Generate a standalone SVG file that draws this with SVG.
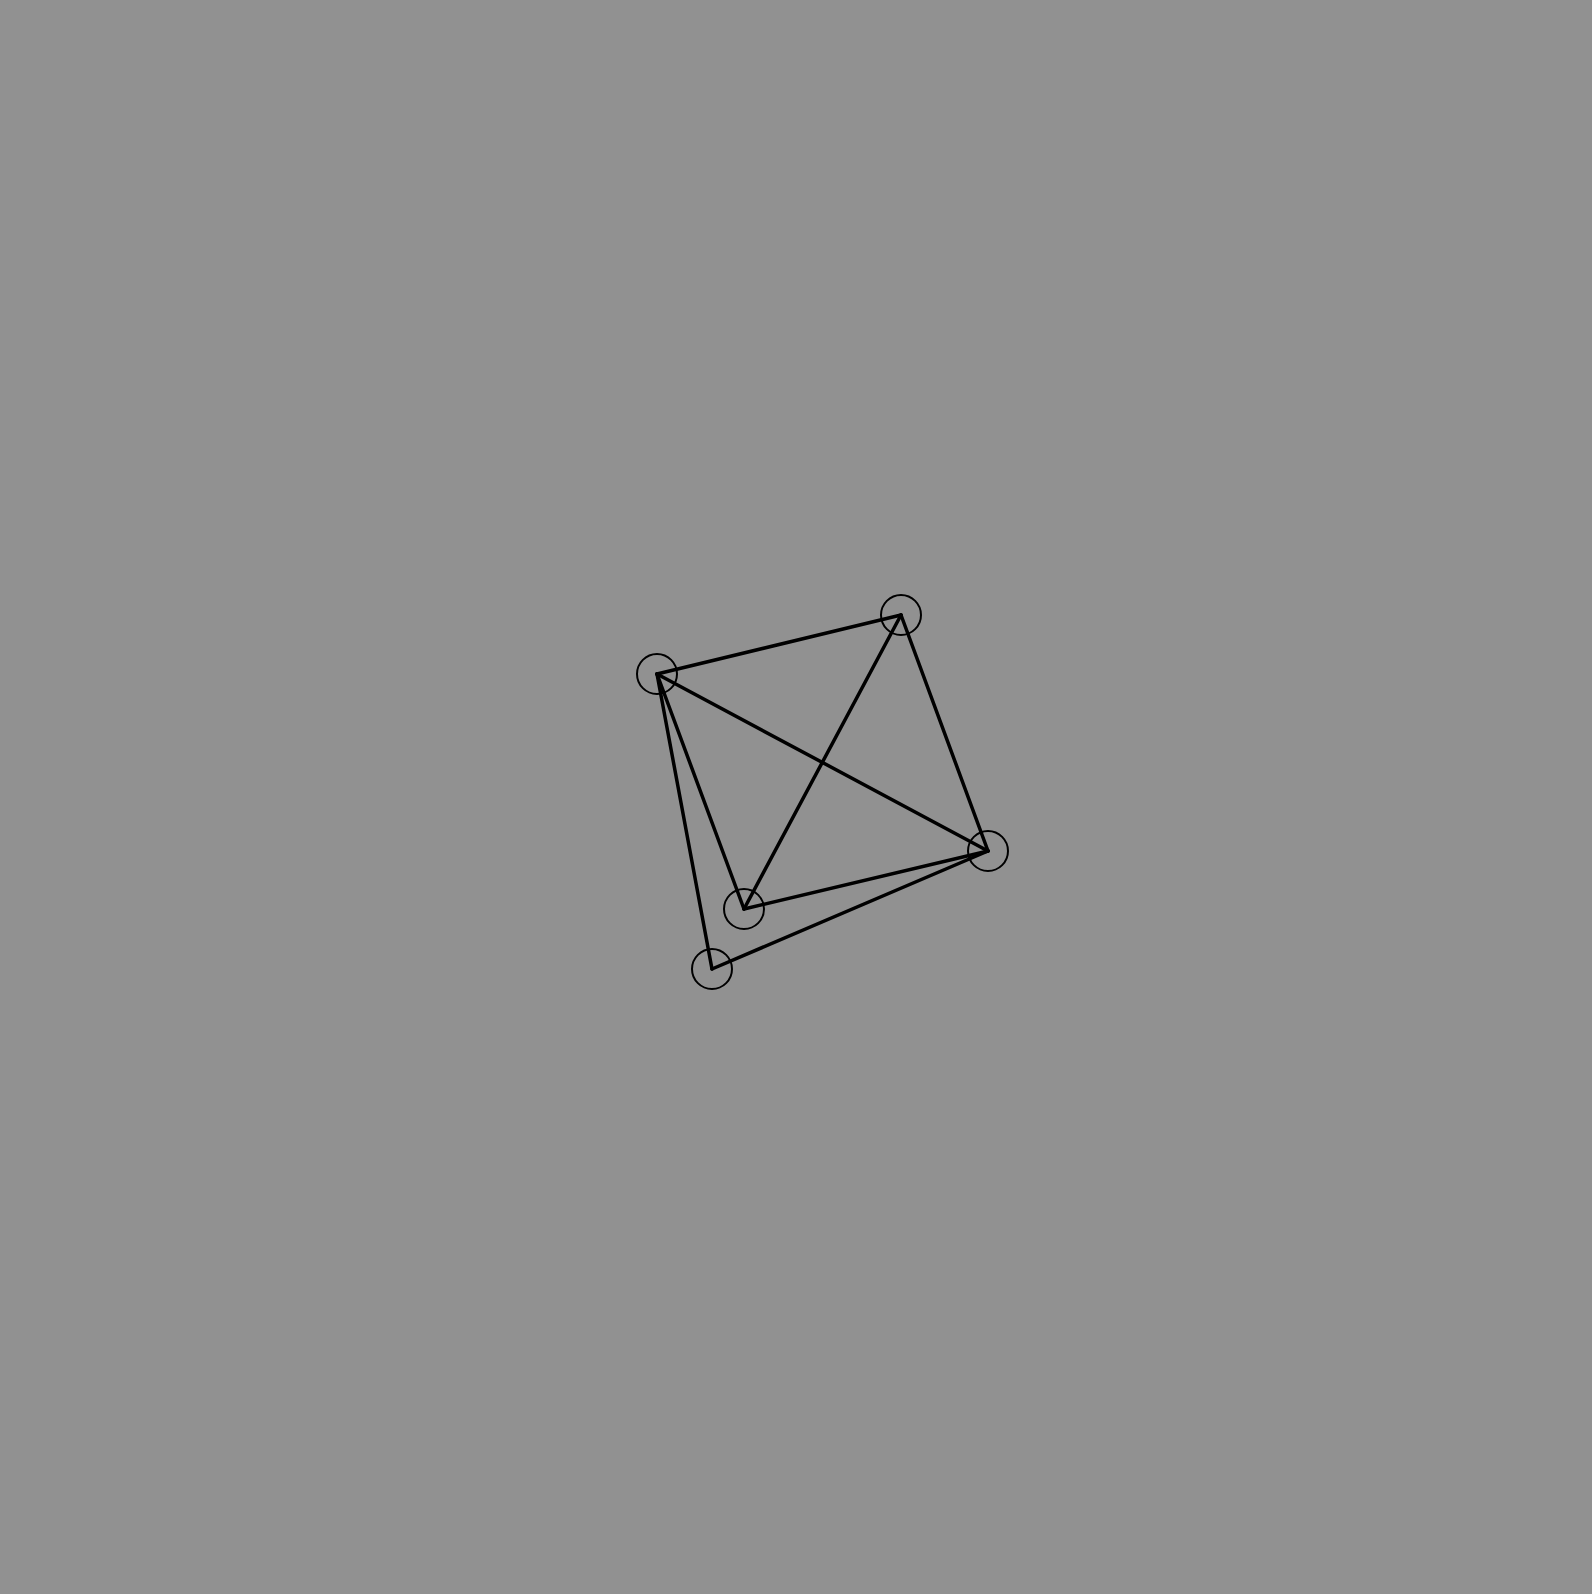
<svg xmlns="http://www.w3.org/2000/svg" width="1592" height="1594" viewBox="0 0 1592 1594">
<style>
.edge{stroke:#000;stroke-width:3.5;fill:none;stroke-linecap:round}
.node{fill:none;stroke:#000;stroke-width:2}
</style>
<rect width="1592" height="1594" fill="#919191"/>
<g id="connectors">
<line class="edge" x1="657" y1="674" x2="901" y2="615"/>
<line class="edge" x1="657" y1="674" x2="988" y2="851"/>
<line class="edge" x1="657" y1="674" x2="744" y2="909"/>
<line class="edge" x1="657" y1="674" x2="712" y2="969"/>
<line class="edge" x1="901" y1="615" x2="744" y2="909"/>
<line class="edge" x1="901" y1="615" x2="988" y2="851"/>
<line class="edge" x1="988" y1="851" x2="744" y2="909"/>
<line class="edge" x1="988" y1="851" x2="712" y2="969"/>
</g>
<g id="nodeA"><circle class="node" cx="657" cy="674" r="20"/></g>
<g id="nodeB"><circle class="node" cx="901" cy="615" r="20"/></g>
<g id="nodeC"><circle class="node" cx="988" cy="851" r="20"/></g>
<g id="nodeD"><circle class="node" cx="744" cy="909" r="20"/></g>
<g id="nodeE"><circle class="node" cx="712" cy="969" r="20"/></g>
</svg>
